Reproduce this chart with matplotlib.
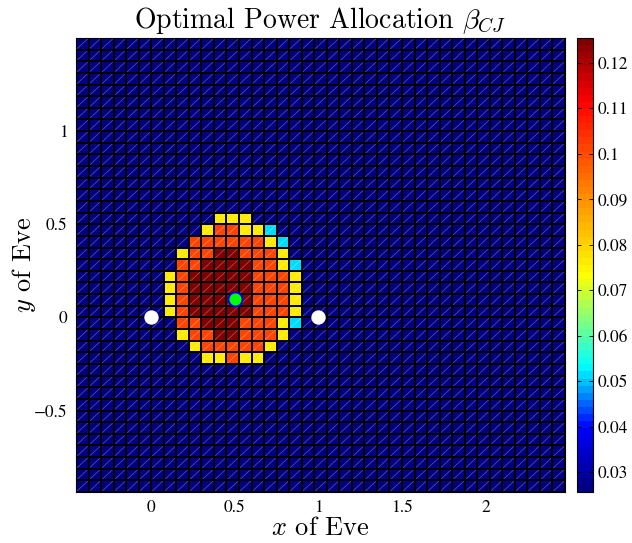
import numpy as np
import matplotlib
matplotlib.use('Agg')
import matplotlib.pyplot as plt
from matplotlib.colors import LinearSegmentedColormap
from matplotlib.collections import LineCollection

plt.rcParams['font.family'] = ['STIXGeneral', 'DejaVu Sans']
plt.rcParams['mathtext.fontset'] = 'cm'

# ---------------- data ----------------
x_start, x_step, n_cols = -0.45, 0.075, 39
y_start, y_step, n_rows = -0.9375, 0.0625, 39

# colour levels (beta_CJ values)
level_values = {'B': 0.027, 'C': 0.0515, 'Y': 0.0765, 'R': 0.102, 'D': 0.1245}

# hot patch, rows from top (row 23) to bottom (row 11), columns 7..17
patch_top_row = 23
patch_first_col = 7
patch_rows = [
    "BBBBYYYBBBB",
    "BBBYRRYYCBB",
    "BBRRRRRRYCB",
    "BYRRDDRRRYB",
    "BRRDDDDRRYC",
    "YRDDDDDRRRY",
    "YRDDDDDRRRY",
    "YRDDDDDRRRY",
    "YRDDDDDRRRY",
    "BRRDDDRRRYC",
    "BYRRDDRRRYB",
    "BBYRRRRRYBB",
    "BBBYYRYYBBB",
]

alice = (0.0, 0.0)
bob = (1.0, 0.0)
jammer = (0.5, 0.1)

clim = (0.0256, 0.1255)
cbar_ticks = [0.03, 0.04, 0.05, 0.06, 0.07, 0.08, 0.09, 0.10, 0.11, 0.12]
cbar_labels = ['0.03', '0.04', '0.05', '0.06', '0.07', '0.08', '0.09', '0.1', '0.11', '0.12']
x_ticks = [0, 0.5, 1, 1.5, 2]
x_labels = ['0', '0.5', '1', '1.5', '2']
y_ticks = [-0.5, 0, 0.5, 1]
y_labels = ['\u22120.5', '0', '0.5', '1']

# colormap (jet-like, nodes)
cmap_nodes = [(0.0, (0, 0, 0.5)), (0.136, (0, 0, 1)), (0.273, (0, 1, 1)),
              (0.478, (1, 1, 0)), (0.864, (1, 0, 0)), (1.0, (0.5, 0, 0))]

# ---------------- build grid ----------------
xe = x_start + x_step * np.arange(n_cols + 1)
ye = y_start + y_step * np.arange(n_rows + 1)
Z = np.full((n_rows, n_cols), level_values['B'])
for k, row in enumerate(patch_rows):
    j = patch_top_row - k
    for m, ch in enumerate(row):
        Z[j, patch_first_col + m] = level_values[ch]

cmap = LinearSegmentedColormap.from_list('jetlike', cmap_nodes, N=64)

fig = plt.figure(figsize=(6.32, 5.43), dpi=100)
ax = fig.add_axes([76 / 632, 51 / 543, 489 / 632, 454 / 543])
mesh = ax.pcolormesh(xe, ye, Z, cmap=cmap, vmin=clim[0], vmax=clim[1],
                     edgecolors='none', antialiased=False)

# diagonal triangulation lines
X0, Y0 = np.meshgrid(xe[:-1], ye[:-1])
X1, Y1 = np.meshgrid(xe[1:], ye[1:])
segs = np.stack([np.stack([X0.ravel(), Y0.ravel()], 1),
                 np.stack([X1.ravel(), Y1.ravel()], 1)], 1)
ax.add_collection(LineCollection(segs, colors=(1, 1, 1, 0.3), linewidths=0.6))

# cell edges
vsegs = [[(x, ye[0]), (x, ye[-1])] for x in xe]
hsegs = [[(xe[0], y), (xe[-1], y)] for y in ye]
grid_lines = LineCollection(vsegs + hsegs, colors='black', linewidths=1.44)
grid_lines.set_snap(True)
ax.add_collection(grid_lines)

ax.plot([alice[0], bob[0]], [alice[1], bob[1]], 'o', ls='none', ms=9.5,
        mfc='white', mec='white', mew=0.8, zorder=5)
ax.plot([jammer[0]], [jammer[1]], 'o', ms=10, mfc=(0, 1, 0), mec='blue', mew=1.3, zorder=5)

ax.set_xlim(xe[0], xe[-1])
ax.set_ylim(ye[0], ye[-1])
ax.set_xticks(x_ticks)
ax.set_xticklabels(x_labels)
ax.set_yticks(y_ticks)
ax.set_yticklabels(y_labels)
ax.tick_params(direction='in', length=5, width=0.6, top=True, right=True,
               labelsize=12.5, pad=6)
for s in ax.spines.values():
    s.set_linewidth(0.8)

lab_font = ['cmr10', 'DejaVu Serif']
ax.set_title('Optimal Power Allocation $\\beta_{CJ}$', fontsize=20, pad=7, family=lab_font)
ax.set_xlabel('$x$ of Eve', fontsize=19, labelpad=0, family=lab_font)
ax.set_ylabel('$y$ of Eve', fontsize=19, labelpad=-3, family=lab_font)

cax = fig.add_axes([577 / 632, 51 / 543, 16 / 632, 454 / 543])
cb = fig.colorbar(mesh, cax=cax)
cb.set_ticks(cbar_ticks)
cb.set_ticklabels(cbar_labels)
cax.tick_params(direction='in', length=3, width=0.6, labelsize=12.5, left=True, right=True, pad=3)
cb.outline.set_linewidth(0.8)

fig.savefig('out.png', dpi=100)
